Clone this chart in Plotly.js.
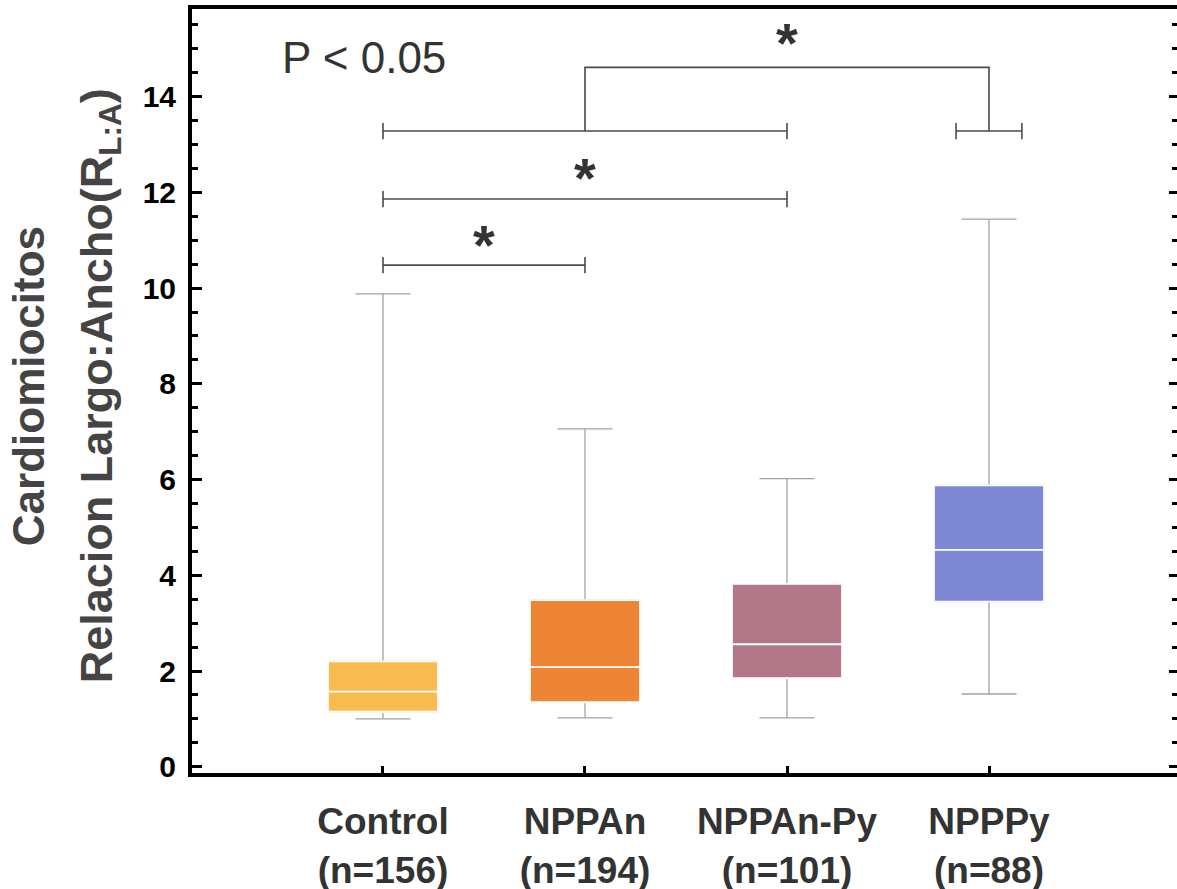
<!DOCTYPE html>
<html>
<head>
<meta charset="utf-8">
<script src="https://cdn.plot.ly/plotly-3.0.1.min.js"></script>
<style>html,body{margin:0;padding:0;background:#fff;}</style>
</head>
<body>
<div id="chart" style="width:1177px;height:889px;"></div>
<script>
// ---- data ----
const groups = ["Control", "NPPAn", "NPPAn-Py", "NPPPy"];
const groupN = ["n=156", "n=194", "n=101", "n=88"];
const minVals = [1.00, 1.02, 1.02, 1.52];
const q1Vals = [1.15, 1.35, 1.85, 3.45];
const medianVals = [1.57, 2.08, 2.56, 4.53];
const q3Vals = [2.20, 3.48, 3.82, 5.88];
const maxVals = [9.88, 7.06, 6.02, 11.44];
const boxColors = ["#F8BB50", "#EE8535", "#B27888", "#7E89D6"];

// significance brackets (group index pairs and bar heights)
const bracketLeft = [0, 0, 0];
const bracketRight = [1, 2, 2];
const bracketY = [10.48, 11.86, 13.28];
const singleBracketGroup = 3;        // short bracket under NPPPy
const singleBracketY = 13.28;
const connectorY = 14.61;            // joins bracket 3 midpoint to NPPPy
const starX = [0.5, 1.0, 2.0];
const starY = [10.92, 12.30, 15.12];
const yTicks = [0, 2, 4, 6, 8, 10, 12, 14];

// ---- build traces ----
const traces = [];
const boxW = 0.545;
groups.forEach((g, i) => {
  // whiskers (grey)
  traces.push({
    type: "box", x: [i], q1: [q1Vals[i]], median: [medianVals[i]], q3: [q3Vals[i]],
    lowerfence: [minVals[i]], upperfence: [maxVals[i]],
    width: boxW, whiskerwidth: 0.5,
    line: {color: "#A3A3A3", width: 1.3},
    fillcolor: "rgba(0,0,0,0)", showlegend: false, hoverinfo: "skip", boxpoints: false
  });
  // coloured box with white median
  traces.push({
    type: "box", x: [i], q1: [q1Vals[i]], median: [medianVals[i]], q3: [q3Vals[i]],
    lowerfence: [q1Vals[i]], upperfence: [q3Vals[i]],
    width: boxW, whiskerwidth: 0,
    line: {color: "#FFFFFF", width: 1.8},
    fillcolor: boxColors[i], showlegend: false, hoverinfo: "skip", boxpoints: false
  });
});

const capH = 0.17;
const brStyle = {color: "#4A4A4A", width: 1.6};
function bracket(x0, x1, y) {
  return {
    type: "scatter", mode: "lines", showlegend: false, hoverinfo: "skip",
    x: [x0, x0, null, x0, x1, null, x1, x1],
    y: [y - capH, y + capH, null, y, y, null, y - capH, y + capH],
    line: brStyle
  };
}
bracketLeft.forEach((l, k) => traces.push(bracket(l, bracketRight[k], bracketY[k])));
traces.push(bracket(singleBracketGroup - 0.163, singleBracketGroup + 0.163, singleBracketY));
const mid3 = (bracketLeft[2] + bracketRight[2]) / 2;
traces.push({
  type: "scatter", mode: "lines", showlegend: false, hoverinfo: "skip",
  x: [mid3, mid3, singleBracketGroup, singleBracketGroup],
  y: [bracketY[2], connectorY, connectorY, singleBracketY],
  line: brStyle
});
// invisible trace for right-side tick axis
traces.push({type: "scatter", x: [0], y: [0], yaxis: "y2", mode: "markers",
  marker: {opacity: 0}, showlegend: false, hoverinfo: "skip"});

const annotations = starX.map((sx, k) => ({
  x: sx, y: starY[k], xref: "x", yref: "y", text: "<b>*</b>", showarrow: false,
  font: {family: "Liberation Sans, Arial, sans-serif", size: 56, color: "#333"},
  xanchor: "center", yanchor: "middle"
}));
annotations.push({
  x: -0.51, y: 14.82, xref: "x", yref: "y", text: "P < 0.05", showarrow: false,
  font: {family: "Liberation Sans, Arial, sans-serif", size: 44, color: "#333"},
  xanchor: "left", yanchor: "middle"
});
annotations.push({
  x: -0.1665, y: 7.95, xref: "paper", yref: "y", text: "<b>Cardiomiocitos</b>",
  textangle: -90, showarrow: false,
  font: {family: "Liberation Sans, Arial, sans-serif", size: 44, color: "#444"},
  xanchor: "center", yanchor: "middle"
});
annotations.push({
  x: -0.0944, y: 7.95, xref: "paper", yref: "y",
  text: "<b>Relacion Largo:Ancho(R<sub>L:A</sub>)</b>",
  textangle: -90, showarrow: false,
  font: {family: "Liberation Sans, Arial, sans-serif", size: 45, color: "#444"},
  xanchor: "center", yanchor: "middle"
});

const yRange = [-0.13, 15.83];
const layout = {
  width: 1177, height: 889,
  margin: {l: 192, r: 0, t: 9, b: 116},
  paper_bgcolor: "#fff", plot_bgcolor: "#fff",
  boxmode: "overlay",
  showlegend: false,
  xaxis: {
    range: [-0.9455, 3.9307],
    tickvals: groups.map((g, i) => i),
    ticktext: groups.map((g, i) => "<b>" + g + "</b><br><b>(" + groupN[i] + ")</b>"),
    tickfont: {family: "Liberation Sans, Arial, sans-serif", size: 37, color: "#333"},
    ticks: "inside", ticklen: 7, tickwidth: 3, tickcolor: "#000",
    showline: true, linecolor: "#000", linewidth: 4, mirror: true,
    showgrid: false, zeroline: false, ticklabelstandoff: 13
  },
  yaxis: {
    range: yRange,
    tickvals: yTicks, ticktext: yTicks.map(v => "<b>" + v + "</b>"),
    tickfont: {family: "Liberation Sans, Arial, sans-serif", size: 30, color: "#000"},
    ticks: "inside", ticklen: 10, tickwidth: 3, tickcolor: "#000",
    minor: {dtick: 0.5, tick0: 0, ticks: "inside", ticklen: 6, tickwidth: 3, tickcolor: "#000"},
    showline: true, linecolor: "#000", linewidth: 4,
    showgrid: false, zeroline: false, ticklabelstandoff: 6
  },
  yaxis2: {
    range: yRange, overlaying: "y", side: "right",
    tickvals: yTicks, showticklabels: false,
    ticks: "inside", ticklen: 8, tickwidth: 3, tickcolor: "#000",
    minor: {dtick: 0.5, tick0: 0, ticks: "inside", ticklen: 5, tickwidth: 3, tickcolor: "#000"},
    showline: false, showgrid: false, zeroline: false
  },
  annotations: annotations
};

Plotly.newPlot("chart", traces, layout, {staticPlot: true, displayModeBar: false});
</script>
</body>
</html>
